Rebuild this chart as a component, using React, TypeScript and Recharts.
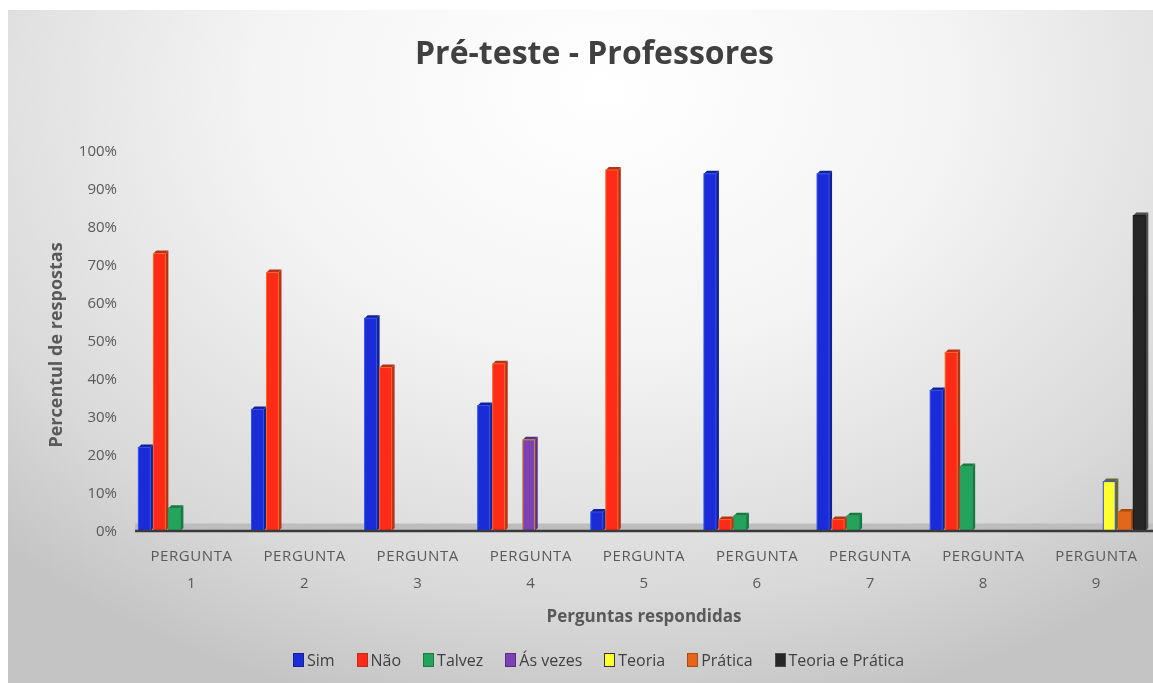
import React from "react";
import { BarChart, Bar, XAxis, YAxis, ReferenceArea } from "recharts";

const categories = ["1", "2", "3", "4", "5", "6", "7", "8", "9"];
const sim = [22, 32, 56, 33, 5, 94, 94, 37, null];
const nao = [73, 68, 43, 44, 95, 3, 3, 47, null];
const talvez = [6, null, null, null, null, 4, 4, 17, null];
const asVezes = [null, null, null, 24, null, null, null, null, null];
const teoria = [null, null, null, null, null, null, null, null, 13];
const pratica = [null, null, null, null, null, null, null, null, 5];
const teoriaPratica = [null, null, null, null, null, null, null, null, 83];
const yTicks = [0, 10, 20, 30, 40, 50, 60, 70, 80, 90, 100];

const series = [
  { key: "sim", name: "Sim", values: sim, fill: "#1c2bd8", side: "#13209a", stroke: "#2a55e8" },
  { key: "nao", name: "Não", values: nao, fill: "#ff2a18", side: "#b8321a", stroke: "#f06a20" },
  { key: "talvez", name: "Talvez", values: talvez, fill: "#23a35c", side: "#177a42", stroke: "#2a9a58" },
  { key: "asVezes", name: "Ás vezes", values: asVezes, fill: "#7c42b4", side: "#5a2e88", stroke: "#d4902a" },
  { key: "teoria", name: "Teoria", values: teoria, fill: "#ffff2e", side: "#5e6a38", stroke: "#3a4ad0" },
  { key: "pratica", name: "Prática", values: pratica, fill: "#e2661c", side: "#a84a12", stroke: "#e2661c" },
  { key: "teoriaPratica", name: "Teoria e Prática", values: teoriaPratica, fill: "#262626", side: "#4a4a4a", stroke: "#111111" },
];

const data = categories.map((c, i) => {
  const row: any = { cat: c };
  series.forEach((s) => (row[s.key] = s.values[i]));
  return row;
});

const FONT = "'Open Sans', sans-serif";

function Bar3D(props: any) {
  const { x, y, width, height, fill, side, stroke } = props;
  if (!height || height <= 0) return null;
  const d = 3;
  const fw = width - d;
  return (
    <g>
      <polygon
        points={`${x + fw},${y} ${x + width},${y - d} ${x + width},${y + height - d} ${x + fw},${y + height}`}
        fill={side}
      />
      <polygon points={`${x},${y} ${x + d},${y - d} ${x + width},${y - d} ${x + fw},${y}`} fill={side} />
      <rect x={x} y={y} width={fw} height={height} fill={fill} stroke={stroke} strokeWidth={1} />
    </g>
  );
}

function XTick(props: any) {
  const { x, y, payload } = props;
  return (
    <text x={x} y={y} textAnchor="middle" fill="#595959" fontFamily={FONT} fontSize={15} letterSpacing={0.6}>
      <tspan x={x} dy={22}>PERGUNTA</tspan>
      <tspan x={x} dy={27}>{payload.value}</tspan>
    </text>
  );
}

export default function App() {
  return (
    <div
      style={{
        position: "fixed",
        top: 10,
        left: 8,
        width: 1145,
        height: 673,
        background: "radial-gradient(ellipse 75% 95% at 52% 12%, #ffffff 0%, #f4f4f4 40%, #d9d9d9 80%, #c4c4c4 100%)",
      }}
    >
      <div
        style={{
          position: "absolute",
          top: 20,
          left: 14,
          width: "100%",
          textAlign: "center",
          fontFamily: FONT,
          fontWeight: 700,
          fontSize: 32,
          color: "#404040",
        }}
      >
        Pré-teste - Professores
      </div>
      <div
        style={{
          position: "absolute",
          left: 47,
          top: 335,
          transform: "translate(-50%, -50%) rotate(-90deg)",
          fontFamily: FONT,
          fontWeight: 700,
          fontSize: 18,
          color: "#595959",
          whiteSpace: "nowrap",
        }}
      >
        Percentul de respostas
      </div>
      <div
        style={{
          position: "absolute",
          left: 127,
          width: 1018,
          top: 594,
          textAlign: "center",
          fontFamily: FONT,
          fontWeight: 700,
          fontSize: 17,
          color: "#595959",
        }}
      >
        Perguntas respondidas
      </div>
      <div
        style={{
          position: "absolute",
          left: 18,
          width: 1145,
          top: 639,
          display: "flex",
          justifyContent: "center",
          gap: 22,
          fontFamily: FONT,
          fontSize: 16,
          color: "#404040",
        }}
      >
        {series.map((s) => (
          <span key={s.key} style={{ display: "flex", alignItems: "center", gap: 3 }}>
            <span
              style={{
                width: 9,
                height: 12,
                background: s.fill,
                border: `1px solid ${s.key === "teoria" ? "#333" : s.side}`,
                display: "inline-block",
              }}
            />
            {s.name}
          </span>
        ))}
      </div>
      <BarChart
        width={1145}
        height={673}
        data={data}
        margin={{ top: 141, right: 0, bottom: 122, left: 67 }}
        barCategoryGap="3%"
        barGap={0}
        style={{ position: "absolute", top: 0, left: 0 }}
      >
        <XAxis
          dataKey="cat"
          height={30}
          tick={<XTick />}
          tickLine={false}
          axisLine={{ stroke: "#3a3a3a", strokeWidth: 2.5 }}
          interval={0}
        />
        <YAxis
          width={60}
          domain={[0, 100]}
          ticks={yTicks}
          tickFormatter={(v: number) => `${v}%`}
          tick={{ fill: "#595959", fontFamily: FONT, fontSize: 15 }}
          tickLine={false}
          axisLine={false}
          tickMargin={12}
        />
        <ReferenceArea y1={0} y2={2} fill="#bdbdbd" fillOpacity={1} stroke="none" />
        {series.map((s) => (
          <Bar
            key={s.key}
            dataKey={s.key}
            name={s.name}
            fill={s.fill}
            isAnimationActive={false}
            shape={(p: any) => <Bar3D {...p} side={s.side} stroke={s.stroke} />}
          />
        ))}
      </BarChart>
    </div>
  );
}
